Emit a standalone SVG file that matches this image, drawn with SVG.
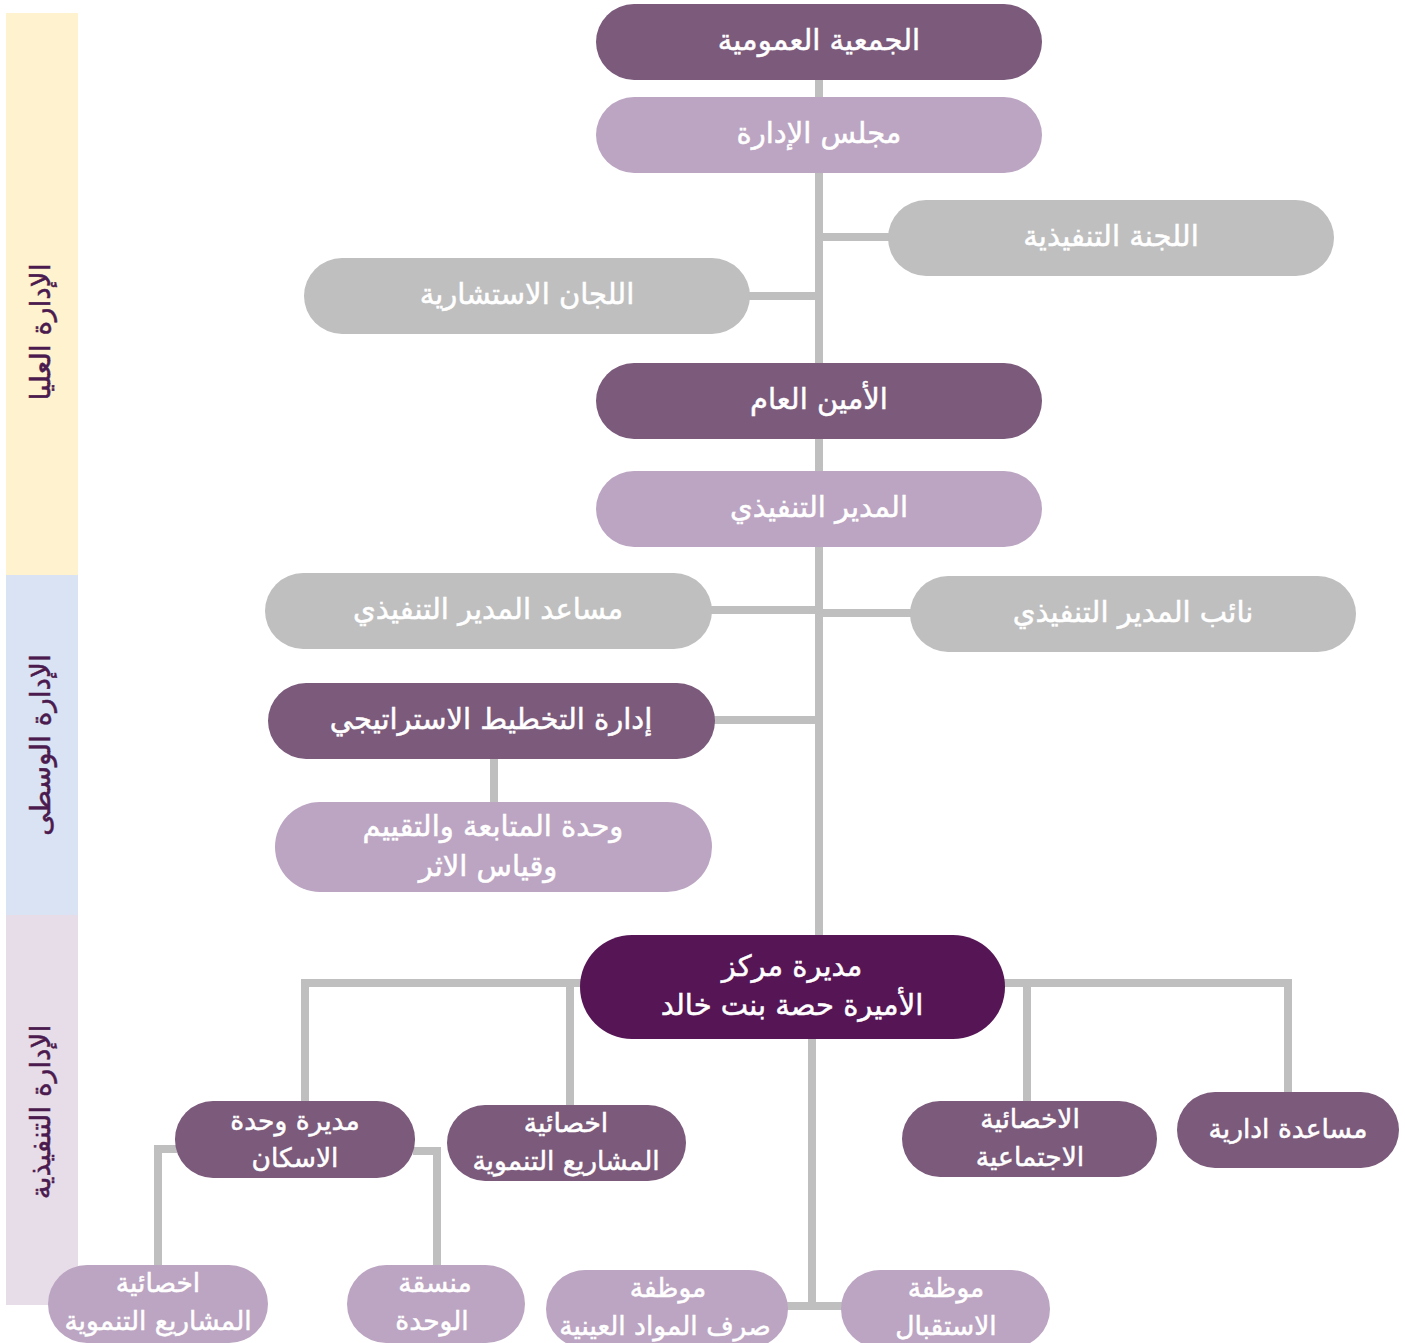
<svg xmlns="http://www.w3.org/2000/svg" width="1405" height="1343" viewBox="0 0 1405 1343">
  <style>
    .dark { fill: #7b5a7b; }
    .light { fill: #bca5c2; }
    .grey { fill: #bfbfbf; }
    .deep { fill: #561656; }
    .t { font-family: "DejaVu Sans", "Noto Sans", sans-serif; font-size: 29px; fill: #ffffff; stroke: #ffffff; stroke-width: 0.5; text-anchor: middle; dominant-baseline: central; }
    .s { font-size: 26.5px; }
    .band { font-family: "DejaVu Sans", "Noto Sans", sans-serif; font-size: 28px; fill: #4b1a4e; stroke: #4b1a4e; stroke-width: 0.5; text-anchor: middle; dominant-baseline: central; }
    .link { stroke: #bfbfbf; stroke-width: 8; fill: none; }
  </style>
  <rect width="1405" height="1343" fill="#ffffff"/>

  <!-- level bands -->
  <g id="bands">
    <rect x="6" y="13" width="72" height="562" fill="#fff2cf"/>
    <rect x="6" y="575" width="72" height="340" fill="#dae3f3"/>
    <rect x="6" y="915" width="72" height="390" fill="#e7dde8"/>
    <text class="band" transform="translate(40,332) rotate(-90)">الإدارة العليا</text>
    <text class="band" transform="translate(40,745) rotate(-90)">الإدارة الوسطى</text>
    <text class="band" transform="translate(40,1112) rotate(-90)">الإدارة التنفيذية</text>
  </g>

  <!-- connectors -->
  <g id="connectors" class="link">
    <line x1="819" y1="78" x2="819" y2="937"/>
    <line x1="819" y1="237" x2="890" y2="237"/>
    <line x1="748" y1="296" x2="819" y2="296"/>
    <line x1="710" y1="610" x2="819" y2="610"/>
    <line x1="819" y1="613" x2="912" y2="613"/>
    <line x1="713" y1="720" x2="819" y2="720"/>
    <line x1="494" y1="757" x2="494" y2="804"/>
    <polyline points="582,983 305,983 305,1103"/>
    <line x1="570" y1="983" x2="570" y2="1107"/>
    <polyline points="1003,983 1288,983 1288,1094"/>
    <line x1="1027" y1="983" x2="1027" y2="1103"/>
    <line x1="812" y1="1037" x2="812" y2="1307"/>
    <line x1="786" y1="1306" x2="843" y2="1306"/>
    <polyline points="177,1149 158,1149 158,1267"/>
    <polyline points="413,1151 437,1151 437,1267"/>
  </g>

  <!-- nodes -->
  <g id="n-general-assembly">
    <rect class="dark" x="596" y="4" width="446" height="76" rx="38"/>
    <text class="t" x="819" y="40">الجمعية العمومية</text>
  </g>
  <g id="n-board">
    <rect class="light" x="596" y="97" width="446" height="76" rx="38"/>
    <text class="t" x="819" y="133">مجلس الإدارة</text>
  </g>
  <g id="n-executive-committee">
    <rect class="grey" x="888" y="200" width="446" height="76" rx="38"/>
    <text class="t" x="1111" y="236">اللجنة التنفيذية</text>
  </g>
  <g id="n-advisory-committees">
    <rect class="grey" x="304" y="258" width="446" height="76" rx="38"/>
    <text class="t" x="527" y="294">اللجان الاستشارية</text>
  </g>
  <g id="n-secretary-general">
    <rect class="dark" x="596" y="363" width="446" height="76" rx="38"/>
    <text class="t" x="819" y="399">الأمين العام</text>
  </g>
  <g id="n-executive-director">
    <rect class="light" x="596" y="471" width="446" height="76" rx="38"/>
    <text class="t" x="819" y="507">المدير التنفيذي</text>
  </g>
  <g id="n-assistant-director">
    <rect class="grey" x="265" y="573" width="447" height="76" rx="38"/>
    <text class="t" x="488" y="609">مساعد المدير التنفيذي</text>
  </g>
  <g id="n-deputy-director">
    <rect class="grey" x="910" y="576" width="446" height="76" rx="38"/>
    <text class="t" x="1133" y="612">نائب المدير التنفيذي</text>
  </g>
  <g id="n-strategic-planning">
    <rect class="dark" x="268" y="683" width="447" height="76" rx="38"/>
    <text class="t" x="491" y="719">إدارة التخطيط الاستراتيجي</text>
  </g>
  <g id="n-monitoring-unit">
    <rect class="light" x="275" y="802" width="437" height="90" rx="45"/>
    <text class="t" x="493" y="826">وحدة المتابعة والتقييم</text>
    <text class="t" x="488" y="866">وقياس الاثر</text>
  </g>
  <g id="n-center-director">
    <rect class="deep" x="580" y="935" width="425" height="104" rx="52"/>
    <text class="t" x="792" y="966">مديرة مركز</text>
    <text class="t" x="792" y="1005">الأميرة حصة بنت خالد</text>
  </g>
  <g id="n-housing-unit">
    <rect class="dark" x="175" y="1101" width="240" height="77" rx="38"/>
    <text class="t s" x="295" y="1120">مديرة وحدة</text>
    <text class="t s" x="295" y="1157">الاسكان</text>
  </g>
  <g id="n-dev-projects">
    <rect class="dark" x="447" y="1105" width="239" height="76" rx="38"/>
    <text class="t s" x="566" y="1122">اخصائية</text>
    <text class="t s" x="566" y="1160">المشاريع التنموية</text>
  </g>
  <g id="n-social-specialist">
    <rect class="dark" x="902" y="1101" width="255" height="76" rx="38"/>
    <text class="t s" x="1030" y="1118">الاخصائية</text>
    <text class="t s" x="1030" y="1156">الاجتماعية</text>
  </g>
  <g id="n-admin-assistant">
    <rect class="dark" x="1177" y="1092" width="222" height="76" rx="38"/>
    <text class="t s" x="1288" y="1128">مساعدة ادارية</text>
  </g>
  <g id="n-housing-projects">
    <rect class="light" x="48" y="1265" width="220" height="78" rx="39"/>
    <text class="t s" x="158" y="1282">اخصائية</text>
    <text class="t s" x="158" y="1320">المشاريع التنموية</text>
  </g>
  <g id="n-unit-coordinator">
    <rect class="light" x="347" y="1265" width="178" height="78" rx="39"/>
    <text class="t s" x="435" y="1282">منسقة</text>
    <text class="t s" x="432" y="1320">الوحدة</text>
  </g>
  <g id="n-in-kind-staff">
    <rect class="light" x="546" y="1270" width="242" height="78" rx="39"/>
    <text class="t s" x="668" y="1287">موظفة</text>
    <text class="t s" x="665" y="1325">صرف المواد العينية</text>
  </g>
  <g id="n-reception-staff">
    <rect class="light" x="841" y="1270" width="209" height="78" rx="39"/>
    <text class="t s" x="946" y="1287">موظفة</text>
    <text class="t s" x="946" y="1325">الاستقبال</text>
  </g>
</svg>
